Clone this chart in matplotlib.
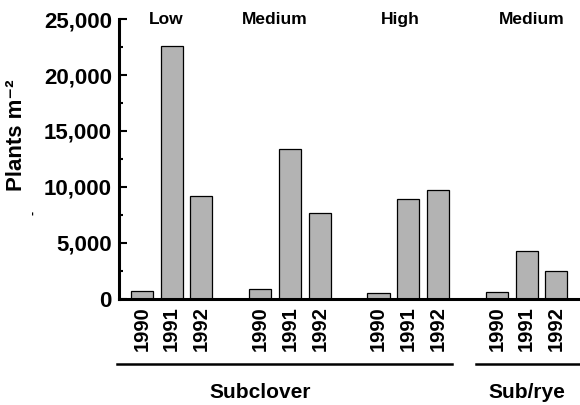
import numpy as np
import matplotlib.pyplot as plt
from matplotlib.ticker import MultipleLocator, FuncFormatter

plt.rcParams['font.family'] = ['Liberation Sans', 'DejaVu Sans']
plt.rcParams['font.weight'] = 'bold'

# plant density, plants per m2
years = ['1990', '1991', '1992']
groups = ['Low', 'Medium', 'High', 'Medium']
low = [700, 22600, 9200]
medium = [850, 13350, 7700]
high = [500, 8900, 9700]
subrye = [620, 4300, 2500]
crops = ['Subclover', 'Sub/rye']

fig = plt.figure(figsize=(5.8, 4.05), dpi=100)
ax = fig.add_axes([0.205, 0.262, 0.795, 0.691])

# header labels sit a little off the group centres
head_shift = [-0.2, -0.5, -0.27, 0.17]

pos = []
labels = []
for g, vals in enumerate([low, medium, high, subrye]):
    x = g * 3.97 + np.arange(3)
    ax.bar(x, vals, width=0.74, color='#b3b3b3', edgecolor='black', linewidth=0.9)
    pos.extend(x)
    labels.extend(years)
    ax.text(x[1] + head_shift[g], 25000, groups[g], ha='center', va='center',
            fontsize=12.5, fontweight='bold')

ax.set_xlim(-0.77, 14.7)
ax.set_ylim(0, 25000)
ax.set_xticks(pos)
ax.set_xticklabels(labels, rotation=90, fontsize=14.5, fontweight='bold')
ax.tick_params(axis='x', length=0, pad=5)

ax.yaxis.set_major_locator(MultipleLocator(5000))
ax.yaxis.set_minor_locator(MultipleLocator(2500))
ax.yaxis.set_major_formatter(FuncFormatter(lambda v, p: f'{int(v):,}'))
ax.tick_params(axis='y', which='major', direction='in', length=6, width=1.5, labelsize=16, pad=5)
ax.tick_params(axis='y', which='minor', direction='in', length=3, width=1.5)
for lab in ax.get_yticklabels():
    lab.set_fontweight('bold')

ax.spines['top'].set_visible(False)
ax.spines['right'].set_visible(False)
ax.spines['left'].set_linewidth(2.2)
ax.spines['bottom'].set_linewidth(2.2)

fig.text(17 / 580, 1 - 135 / 405, 'Plants m\u207b\u00b2', rotation=90, fontsize=16,
         fontweight='bold', ha='center', va='center')
fig.text(33 / 580, 1 - 213 / 405, '-', rotation=90, fontsize=9, ha='center', va='center')

# crop group underlines and names
fig.add_artist(plt.Line2D([117 / 580, 452 / 580], [1 - 364 / 405] * 2, color='black', lw=1.8))
fig.add_artist(plt.Line2D([476 / 580, 1.0], [1 - 364 / 405] * 2, color='black', lw=1.8))
fig.text(260 / 580, 1 - 392 / 405, crops[0], ha='center', va='center', fontsize=15, fontweight='bold')
fig.text(527 / 580, 1 - 392 / 405, crops[1], ha='center', va='center', fontsize=15, fontweight='bold')

fig.savefig('out.png', dpi=100)
